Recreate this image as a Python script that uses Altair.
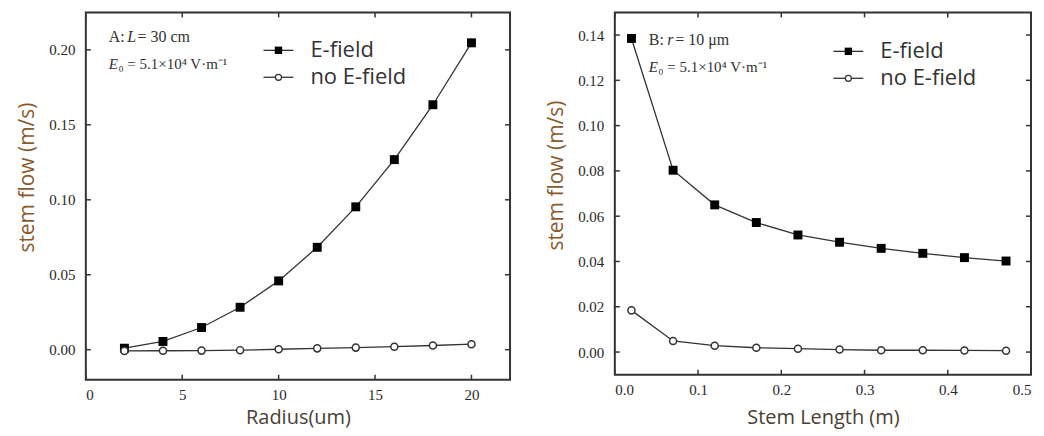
import altair as alt
import pandas as pd

# ---------------- data ----------------
radius = [2, 4, 6, 8, 10, 12, 14, 16, 18, 20]
radius_efield = [0.001, 0.0055, 0.0148, 0.0283, 0.0459, 0.0683, 0.0953, 0.1268, 0.1634, 0.2047]
radius_noefield = [-0.0008, -0.0007, -0.0006, -0.0003, 0.0003, 0.0009, 0.0014, 0.002, 0.0028, 0.0037]

length = [0.02, 0.07, 0.12, 0.17, 0.22, 0.27, 0.32, 0.37, 0.42, 0.47]
length_efield = [0.1385, 0.0803, 0.065, 0.0572, 0.0517, 0.0485, 0.0458, 0.0436, 0.0417, 0.0402]
length_noefield = [0.0184, 0.0049, 0.0028, 0.0019, 0.0015, 0.0011, 0.0008, 0.0008, 0.0007, 0.0006]

series_names = ["E-field", "no E-field"]

xticks_a = [0, 5, 10, 15, 20]
yticks_a = [0.0, 0.05, 0.10, 0.15, 0.20]
xticks_b = [0.0, 0.1, 0.2, 0.3, 0.4, 0.5]
yticks_b = [0.0, 0.02, 0.04, 0.06, 0.08, 0.10, 0.12, 0.14]

ann_a = [("A: ", "normal"), ("L", "italic"), (" = 30 cm", "normal")]
ann_b = [("B: ", "normal"), ("r", "italic"), (" = 10 μm", "normal")]
ann_e = [("E", "italic"), ("₀ = 5.1×10⁴ V·m⁻¹", "normal")]

INK = "#333333"
SERIF = "Liberation Serif"
SANS = "Open Sans"


def text_width(s, size):
    # rough Times-like width estimate for placing annotation pieces
    w = 0.0
    for ch in s:
        if ch in " .,:·":
            w += 0.26
        elif ch in "il1₀⁴⁻¹":
            w += 0.32
        elif ch in "mMW×":
            w += 0.75
        elif ch.isupper():
            w += 0.64
        else:
            w += 0.5
    return w * size


def annotation(parts, x0, y0, size=15):
    layers = []
    x = x0
    for txt, style in parts:
        layers.append(
            alt.Chart(pd.DataFrame({"t": [txt]}))
            .mark_text(font=SERIF, fontSize=size, fontStyle=style, color=INK,
                       align="left", baseline="middle")
            .encode(text="t:N", x=alt.value(x), y=alt.value(y0))
        )
        x += text_width(txt, size)
    return layers


def panel(xs, e_vals, n_vals, xdomain, ydomain, xticks, yticks, xfmt, yfmt,
          xtitle, width, height, ann1, ann_x, ann_y, leg_x, leg_y,
          ytitle_y, xtitle_pad):
    df = pd.DataFrame({"x": xs, "E": e_vals, "N": n_vals})
    xscale = alt.Scale(domain=xdomain, nice=False, zero=False)
    yscale = alt.Scale(domain=ydomain, nice=False, zero=False)
    xaxis = alt.Axis(values=xticks, format=xfmt, title=xtitle, titlePadding=xtitle_pad)
    yaxis = alt.Axis(values=yticks, format=yfmt, title="stem flow (m/s)", titleY=ytitle_y)

    def X(f):
        return alt.X(f, scale=xscale, axis=xaxis)

    def Y(f):
        return alt.Y(f, scale=yscale, axis=yaxis)

    base = alt.Chart(df)
    line_e = base.mark_line(color=INK, strokeWidth=1.3).encode(x=X("x:Q"), y=Y("E:Q"))
    line_n = base.mark_line(color=INK, strokeWidth=1.3).encode(x=X("x:Q"), y=Y("N:Q"))
    pts_e = base.mark_point(shape="square", filled=True, color="#000000", size=80,
                            opacity=1).encode(x=X("x:Q"), y=Y("E:Q"))
    pts_n = base.mark_point(shape="circle", filled=True, fill="#ffffff", stroke=INK,
                            strokeWidth=1.5, size=50, opacity=1).encode(x=X("x:Q"), y=Y("N:Q"))

    ytk = alt.Chart(pd.DataFrame({"v": yticks}))
    xtk = alt.Chart(pd.DataFrame({"v": xticks}))
    tick_style = dict(color=INK, strokeWidth=1.5)
    ticks = [
        ytk.mark_rule(**tick_style).encode(y=Y("v:Q"), x=alt.value(0), x2=alt.value(5)),
        ytk.mark_rule(**tick_style).encode(y=Y("v:Q"), x=alt.value(width - 5),
                                           x2=alt.value(width)),
        xtk.mark_rule(**tick_style).encode(x=X("v:Q"), y=alt.value(height - 5),
                                           y2=alt.value(height)),
        xtk.mark_rule(**tick_style).encode(x=X("v:Q"), y=alt.value(0), y2=alt.value(5)),
    ]

    # manual legend
    legend = []
    for i, name in enumerate(series_names):
        ly = leg_y + i * 27
        ldf = alt.Chart(pd.DataFrame({"label": [name]}))
        legend.append(ldf.mark_rule(color=INK, strokeWidth=1.3).encode(
            x=alt.value(leg_x), x2=alt.value(leg_x + 30), y=alt.value(ly)))
        if i == 0:
            legend.append(ldf.mark_point(shape="square", filled=True, color="#000000",
                                         size=55, opacity=1).encode(
                x=alt.value(leg_x + 15), y=alt.value(ly)))
        else:
            legend.append(ldf.mark_point(shape="circle", filled=True, fill="#ffffff",
                                         stroke=INK, strokeWidth=1.3, size=36,
                                         opacity=1).encode(
                x=alt.value(leg_x + 15), y=alt.value(ly)))
        legend.append(ldf.mark_text(font=SANS, fontSize=22, color=INK, align="left",
                                    baseline="middle").encode(
            text="label:N", x=alt.value(leg_x + 47), y=alt.value(ly)))

    anns = annotation(ann1, ann_x, ann_y, 16) + annotation(ann_e, ann_x, ann_y + 27, 15)

    return alt.layer(line_e, line_n, pts_e, pts_n, *ticks, *legend, *anns).properties(
        width=width, height=height)


left = panel(radius, radius_efield, radius_noefield, [0, 22], [-0.02, 0.225],
             xticks_a, yticks_a, "d", ".2f", "Radius(um)", 425, 368,
             ann_a, 23, 25, 178, 38, 165, 5)
right = panel(length, length_efield, length_noefield, [0, 0.5], [-0.01, 0.15],
              xticks_b, yticks_b, ".1f", ".2f", "Stem Length (m)", 417, 363,
              ann_b, 34, 28, 219, 39, 163, 10)

chart = (
    alt.hconcat(left, right, spacing=32)
    .properties(padding={"left": 7, "top": 2, "right": 3, "bottom": 0},
                background="#ffffff")
    .configure_view(stroke=INK, strokeWidth=2)
    .configure_axis(ticks=False, tickSize=0, domain=False, grid=False,
                    labelFont=SERIF, labelFontSize=15, labelColor="#2a2a2a",
                    titleFont=SANS, titleFontWeight="normal")
    .configure_axisX(labelPadding=8, titleFontSize=20, titleColor="#4a4036")
    .configure_axisY(labelPadding=11, titlePadding=11, titleFontSize=21,
                     titleColor="#8b5a2b")
)

chart.save("out.html", embed_options={"renderer": "svg", "actions": False})
